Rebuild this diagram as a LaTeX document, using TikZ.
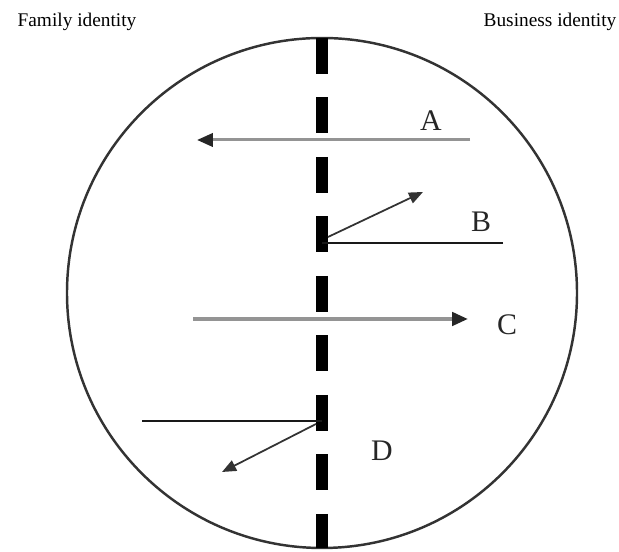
\documentclass[tikz,border=0pt]{standalone}
\usepackage{fontspec}
\setmainfont{Liberation Serif}
\usetikzlibrary{arrows.meta}
\begin{document}
\begin{tikzpicture}[every node/.style={font=\fontsize{11}{13}\selectfont, inner sep=0pt},
  letter/.style={font=\fontsize{17}{20}\selectfont, text=black!85},
  pale/.style={draw=black!42, line width=1.7pt, -{Triangle[length=9pt, width=7.5pt, color=black!85]}},
  bar/.style={draw=black!90, line width=1.5pt},
  slant/.style={draw=black!80, line width=1pt, -{Triangle[length=8pt, width=6.5pt]}},
  divide/.style={line width=0.24cm, dash pattern=on 0.72cm off 0.47cm}]
  \useasboundingbox (0,0) rectangle (12.38,11.04);
  % the circle and the split down its middle
  \node[circle, draw=black!80, line width=1.4pt, minimum size=10.2cm, outer sep=0pt] (ring) at (6.44,5.18) {};
  \draw[divide] (ring.north) -- (ring.south);
  \node[anchor=base] (fam) at (1.54,10.50) {Family identity};
  \node[anchor=base] (bus) at (11.00,10.50) {Business identity};
  % A : right to left, crossing
  \coordinate (a0) at (9.40,8.24); \coordinate (a1) at (3.94,8.24);
  \draw[pale] (a0) -- (a1);
  \node[letter] (la) at (8.62,8.62) {A};
  % B : stops at the line, bounces back
  \coordinate (b0) at (10.06,6.18); \coordinate (b1) at (6.44,6.18);
  \coordinate (b2) at (6.56,6.30); \coordinate (b3) at (8.46,7.20);
  \draw[bar] (b0) -- (b1); \draw[slant] (b2) -- (b3);
  \node[letter] (lb) at (9.62,6.60) {B};
  % C : left to right, crossing
  \coordinate (c0) at (3.86,4.66); \coordinate (c1) at (9.36,4.66);
  \draw[pale, line width=2.1pt] (c0) -- (c1);
  \node[letter] (lc) at (10.14,4.54) {C};
  % D : stops at the line, bounces back
  \coordinate (d0) at (2.84,2.62); \coordinate (d1) at (6.44,2.62);
  \coordinate (d2) at (6.32,2.56); \coordinate (d3) at (4.44,1.60);
  \draw[bar] (d0) -- (d1); \draw[slant] (d2) -- (d3);
  \node[letter] (ld) at (7.64,2.02) {D};
\end{tikzpicture}
\end{document}
